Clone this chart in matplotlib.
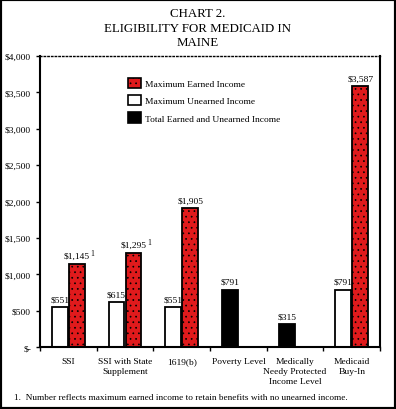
import matplotlib
matplotlib.use("Agg")
import matplotlib.pyplot as plt
import numpy as np
from matplotlib.patches import Rectangle, Patch

plt.rcParams['font.family'] = ['Liberation Serif', 'DejaVu Serif']
plt.rcParams['hatch.color'] = '#b3121a'
plt.rcParams['hatch.linewidth'] = 0.5

categories = ["SSI", "SSI with State\nSupplement", "1619(b)", "Poverty Level",
              "Medically\nNeedy Protected\nIncome Level", "Medicaid\nBuy-In"]
unearned = [551, 615, 551, None, None, 791]
earned = [1145, 1295, 1905, None, None, 3587]
total = [None, None, None, 791, 315, None]
footnoted = [True, True, False, False, False, False]
yticks = [0, 500, 1000, 1500, 2000, 2500, 3000, 3500, 4000]
ytick_labels = ["$-", "$500", "$1,000", "$1,500", "$2,000", "$2,500", "$3,000", "$3,500", "$4,000"]

RED = "#e01a1c"

fig = plt.figure(figsize=(3.96, 4.10), dpi=100)
fig.patches.append(Rectangle((0, 0), 1, 1, transform=fig.transFigure, fill=False,
                             edgecolor="black", linewidth=3, zorder=10))
ax = fig.add_axes([0.101, 0.151, 0.859, 0.71])

x = np.arange(len(categories))
w = 0.28
off = 0.15
FS = 6.8

def money(v):
    return "\\${:,}".format(v)

for i in x:
    if unearned[i] is not None:
        ax.bar(i - off, unearned[i], w, color="white", edgecolor="black", linewidth=1.3)
        ax.text(i - off, unearned[i] + 50, money(unearned[i]), ha="center", va="bottom", fontsize=FS)
    if earned[i] is not None:
        ax.bar(i + off, earned[i], w, color=RED, edgecolor="black", linewidth=1.3, hatch="...")
        t = ax.text(i + off, earned[i] + 50, money(earned[i]), ha="center", va="bottom", fontsize=FS)
        if footnoted[i]:
            ax.annotate("1", xy=(1, 1), xycoords=t, xytext=(0.5, 2.5), textcoords="offset points",
                        ha="left", va="top", fontsize=5.5)
    if total[i] is not None:
        ax.bar(i - off, total[i], w, color="black", edgecolor="black", linewidth=1.3)
        ax.text(i - off, total[i] + 50, money(total[i]), ha="center", va="bottom", fontsize=FS)

ax.set_xlim(-0.5, len(categories) - 0.5)
ax.set_ylim(0, 4000)
ax.set_yticks(yticks)
ax.set_yticklabels(ytick_labels, fontsize=FS)
ax.set_xticks(np.arange(len(categories) + 1) - 0.5)
ax.set_xticklabels([])
ax.tick_params(axis="x", length=3, width=1)
ax.tick_params(axis="y", length=3, width=1)
for i, c in enumerate(categories):
    ax.text(i, -0.035, c, transform=ax.get_xaxis_transform(), ha="center", va="top",
            fontsize=FS, linespacing=1.3)
for s in ["left", "right", "bottom"]:
    ax.spines[s].set_linewidth(1.5)
ax.spines["top"].set_linestyle(":")
ax.spines["top"].set_linewidth(1)

handles = [Patch(facecolor=RED, edgecolor="black", linewidth=1.2, hatch="..."),
           Patch(facecolor="white", edgecolor="black", linewidth=1.2),
           Patch(facecolor="black", edgecolor="black", linewidth=1.2)]
ax.legend(handles, ["Maximum Earned Income", "Maximum Unearned Income",
                    "Total Earned and Unearned Income"],
          loc="upper left", bbox_to_anchor=(0.235, 0.955), frameon=False, fontsize=FS,
          handlelength=1.3, handleheight=1.3, labelspacing=0.75, handletextpad=0.45)

fig.text(0.5, 0.98, "CHART 2.\nELIGIBILITY FOR MEDICAID IN\nMAINE", ha="center", va="top",
         fontsize=9.3, linespacing=1.27)
fig.text(0.035, 0.03, "1.  Number reflects maximum earned income to retain benefits with no unearned income.",
         ha="left", va="center", fontsize=6.65)

fig.savefig("out.png", dpi=100)
